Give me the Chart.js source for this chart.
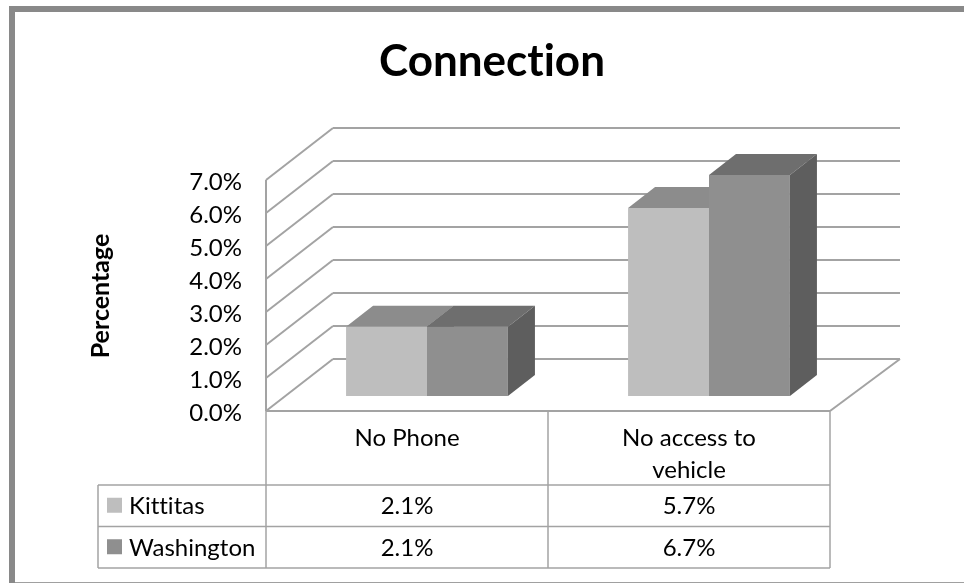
<!DOCTYPE html>
<html>
<head>
<meta charset="utf-8">
<title>Connection</title>
<script src="https://cdn.jsdelivr.net/npm/chart.js@4/dist/chart.umd.min.js"></script>
<style>
  html, body { margin: 0; padding: 0; background: #fff; }
  canvas { display: block; }
</style>
</head>
<body>
<canvas id="chart" width="964" height="583"></canvas>
<script>
const categories = [["No Phone"], ["No access to", "vehicle"]];
const seriesNames = ["Kittitas", "Washington"];
const kittitas = [2.1, 5.7];
const washington = [2.1, 6.7];
const yTicks = [0, 1, 2, 3, 4, 5, 6, 7];

const FONT = "Lato, Carlito, Calibri, sans-serif";
const LINE = "#a3a3a3";
const frontColors = ["#bebebe", "#8f8f8f"];
const topColors = ["#8c8c8c", "#6e6e6e"];
const sideColor = "#5e5e5e";

// chart area is the plane of the bar fronts, the floor and walls sit around it
const planeDx = 20, planeDy = 15;
const wallDx = 67, wallDy = 52;
const barDx = 27, barDy = 21;

const pct = (v) => v.toFixed(1) + "%";

function poly(ctx, pts, fill) {
  ctx.beginPath();
  pts.forEach((p, i) => (i ? ctx.lineTo(p[0], p[1]) : ctx.moveTo(p[0], p[1])));
  ctx.closePath();
  ctx.fillStyle = fill;
  ctx.fill();
}

function seg(ctx, x1, y1, x2, y2) {
  ctx.beginPath();
  ctx.moveTo(x1, y1);
  ctx.lineTo(x2, y2);
  ctx.stroke();
}

const frame = {
  id: "frame",
  beforeDraw(chart) {
    const ctx = chart.ctx;
    ctx.textRendering = "optimizeSpeed"; // no tt / ti ligatures
    ctx.fillStyle = "#898989";
    ctx.fillRect(9, 6, 955, 6);
    ctx.fillRect(9, 6, 6, 577);
    ctx.fillStyle = "#a0a0a0";
    ctx.fillRect(15, 582, 949, 1);
  },
};

const walls = {
  id: "walls",
  beforeDatasetsDraw(chart) {
    const ctx = chart.ctx,
      y = chart.scales.y,
      a = chart.chartArea,
      fx = a.left - planeDx,
      rx = a.right - planeDx,
      bx = fx + wallDx,
      ex = 900;
    ctx.save();
    ctx.strokeStyle = LINE;
    ctx.lineWidth = 2;
    yTicks.forEach((v) => {
      const fy = y.getPixelForValue(v) + planeDy;
      seg(ctx, fx, fy, bx, fy - wallDy);
      seg(ctx, bx, fy - wallDy, ex, fy - wallDy);
    });
    const y0 = y.getPixelForValue(0) + planeDy,
      y7 = y.getPixelForValue(7) + planeDy;
    seg(ctx, fx, y7, fx, y0);
    seg(ctx, fx, y0, rx, y0);
    seg(ctx, rx, y0, ex, y0 - wallDy);

    // top and side faces of the bars, fronts come from the library
    [0, 1].forEach((i) => {
      chart.getDatasetMeta(i).data.forEach((b) => {
        const l = b.x - b.width / 2,
          r = b.x + b.width / 2;
        poly(ctx, [[l, b.y], [r, b.y], [r + barDx, b.y - barDy], [l + barDx, b.y - barDy]], topColors[i]);
        poly(ctx, [[r, b.y], [r + barDx, b.y - barDy], [r + barDx, b.base - barDy], [r, b.base]], sideColor);
      });
    });
    ctx.restore();
  },
};

const dataTable = {
  id: "dataTable",
  afterDraw(chart) {
    const ctx = chart.ctx,
      a = chart.chartArea,
      x0 = a.left - planeDx,
      x2 = a.right - planeDx,
      x1 = (x0 + x2) / 2,
      xl = 98,
      top = 411,
      r1 = 485,
      r2 = 526.5,
      r3 = 568;
    ctx.save();
    ctx.strokeStyle = LINE;
    ctx.lineWidth = 1.5;
    [x0, x1, x2].forEach((x) => seg(ctx, x, top, x, r3));
    seg(ctx, xl, r1, xl, r3);
    [r1, r2, r3].forEach((y) => seg(ctx, xl, y, x2, y));

    ctx.fillStyle = "#000";
    ctx.textBaseline = "middle";
    ctx.font = "24px " + FONT;
    const rows = [kittitas, washington];
    rows.forEach((vals, i) => {
      const cy = i ? (r2 + r3) / 2 : (r1 + r2) / 2;
      ctx.fillStyle = frontColors[i];
      ctx.fillRect(107, cy - 8, 15, 15);
      ctx.fillStyle = "#000";
      ctx.textAlign = "left";
      ctx.fillText(seriesNames[i], 129, cy + 1);
      ctx.textAlign = "center";
      vals.forEach((v, j) => ctx.fillText(pct(v), (j ? x1 + x2 : x0 + x1) / 2, cy + 1));
    });

    ctx.translate(101, 296);
    ctx.rotate(-Math.PI / 2);
    ctx.textAlign = "center";
    ctx.font = "bold 25px " + FONT;
    ctx.fillText("Percentage", 0, 0);
    ctx.restore();
  },
};

const titlePlace = {
  id: "titlePlace",
  afterLayout(chart) {
    chart.titleBlock.left = 20;
    chart.titleBlock.right = 964;
  },
};

new Chart(document.getElementById("chart"), {
  type: "bar",
  data: {
    labels: categories,
    datasets: [
      { label: seriesNames[0], data: kittitas, backgroundColor: frontColors[0] },
      { label: seriesNames[1], data: washington, backgroundColor: frontColors[1] },
    ],
  },
  plugins: [frame, walls, dataTable, titlePlace],
  options: {
    responsive: false,
    animation: false,
    layout: { padding: { left: 0, right: 114, top: 0, bottom: 0 } },
    datasets: { bar: { categoryPercentage: 0.574, barPercentage: 1, borderWidth: 0 } },
    plugins: {
      legend: { display: false },
      tooltip: { enabled: false },
      title: {
        display: true,
        text: "Connection",
        color: "#000",
        font: { family: FONT, size: 44, weight: "bold" },
        padding: { top: 35, bottom: 77.2 },
      },
    },
    scales: {
      x: {
        grid: { display: false },
        border: { display: false },
        afterFit(s) { s.height = 187; },
        ticks: {
          color: "#000",
          font: { family: FONT, size: 24, lineHeight: 1.33 },
          padding: 18,
          labelOffset: -planeDx,
          maxRotation: 0,
          autoSkip: false,
        },
      },
      y: {
        min: 0,
        max: 7,
        grid: { display: false },
        border: { display: false },
        afterFit(s) { s.width = 286; },
        afterBuildTicks(s) { s.ticks = yTicks.map((v) => ({ value: v })); },
        ticks: {
          color: "#000",
          font: { family: FONT, size: 24 },
          padding: 36,
          labelOffset: planeDy + 2,
          callback: (v) => pct(v),
        },
      },
    },
  },
});
</script>
</body>
</html>
